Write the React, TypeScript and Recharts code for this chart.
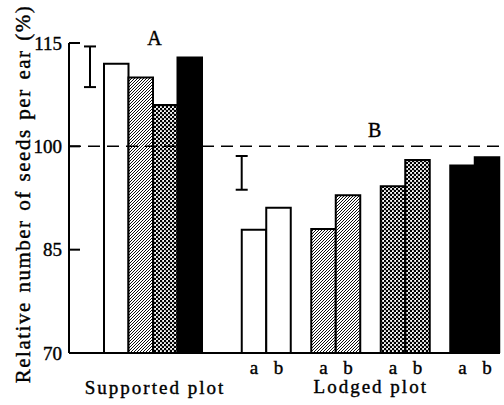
import React from 'react';
import { BarChart, Bar, XAxis, YAxis, ReferenceLine, ErrorBar, LabelList, Cell } from 'recharts';

const FONT = 'Liberation Serif';

// ---- data ----
const yTicks = [70, 85, 100, 115];
const yLabel = 'Relative number of seeds per ear (%)';
const treatments = ['open', 'hatched', 'dotted', 'solid'];
const supportedLabel = 'Supported plot';
const lodgedLabel = 'Lodged plot';
const supportedValues = [112, 110, 106, 112.9];
const lodgedA = [87.9, 88, 94.2, 97.2];
const lodgedB = [91.1, 92.9, 98, 98.4];
const pairKeys = ['a', 'b'];
const groupLabels = ['A', 'B'];
const errLow = [108.6, 93.7];
const errHigh = [114.5, 98.6];
const referenceValue = 100;
const yDomain = [70, 115];

// ---- tables built from the arrays ----
const supportedData = [
  treatments.reduce<Record<string, any>>(
    (row, t, i) => {
      row[t] = supportedValues[i];
      return row;
    },
    { group: supportedLabel }
  ),
];

const lodgedData = treatments.map((t, i) => ({ t, a: lodgedA[i], b: lodgedB[i] }));

const errData = groupLabels.map((g, i) => {
  const mid = (errLow[i] + errHigh[i]) / 2;
  return { g, mid, err: [mid - errLow[i], errHigh[i] - mid] };
});

const patternDefs = (id: string) => (
  <defs>
    <pattern id={`hatch-${id}`} patternUnits="userSpaceOnUse" width={3} height={3}>
      <rect width={3} height={3} fill="#fff" />
      <path
        d="M-0.75,0.75 L0.75,-0.75 M0,3 L3,0 M2.25,3.75 L3.75,2.25"
        stroke="#000"
        strokeWidth={0.95}
      />
    </pattern>
    <pattern id={`dots-${id}`} patternUnits="userSpaceOnUse" width={4} height={4}>
      <rect width={4} height={4} fill="#fff" />
      <circle cx={1} cy={1} r={1.3} fill="#000" />
      <circle cx={3} cy={3} r={1.3} fill="#000" />
    </pattern>
  </defs>
);

const fillFor = (t: string, id: string) => {
  if (t === 'open') return '#fff';
  if (t === 'hatched') return `url(#hatch-${id})`;
  if (t === 'dotted') return `url(#dots-${id})`;
  return '#000';
};

const weight = { stroke: '#000', strokeWidth: 0.4 };

const YAxisTitle = (props: any) => {
  const vb = props.viewBox || { x: 0, y: 43, width: 69, height: 310 };
  const cx = vb.x + 23;
  const cy = vb.y + vb.height / 2 - 4;
  return (
    <text
      x={cx}
      y={cy}
      transform={`rotate(-90 ${cx} ${cy})`}
      textAnchor="middle"
      dominantBaseline="central"
      fill="#000"
      fontFamily={FONT}
      fontSize={21}
      style={{ fontFamily: FONT, fontSize: 21, letterSpacing: '1.5px', wordSpacing: '2px', ...weight }}
    >
      {yLabel}
    </text>
  );
};

const textStyle = { fontFamily: FONT, fill: '#000' };

export default function App() {
  return (
    <div
      style={{
        position: 'absolute',
        left: 0,
        top: 0,
        width: 504,
        height: 405,
        overflow: 'hidden',
        background: '#fff',
        fontFamily: FONT,
      }}
    >
      {/* Axes, reference line and supported plot */}
      <div style={{ position: 'absolute', left: 0, top: 0 }}>
        <BarChart
          width={504}
          height={405}
          data={supportedData}
          margin={{ top: 43, right: 4, bottom: 12, left: 0 }}
          barGap={0}
          barCategoryGap={0}
          style={{ fontFamily: FONT }}
        >
          {patternDefs('s')}
          <XAxis
            dataKey="group"
            height={40}
            padding={{ left: 0, right: 263 }}
            axisLine={{ stroke: '#000', strokeWidth: 2 }}
            tickLine={false}
            tickSize={0}
            tickMargin={28}
            tick={{ ...textStyle, fontSize: 19, dx: 2, style: { fontFamily: FONT, letterSpacing: '2px', ...weight } } as any}
          />
          <YAxis
            type="number"
            width={69}
            domain={yDomain}
            ticks={yTicks}
            interval={0}
            allowDataOverflow
            tickSize={-11}
            tickMargin={18}
            axisLine={{ stroke: '#000', strokeWidth: 2 }}
            tickLine={{ stroke: '#000', strokeWidth: 2 }}
            tick={{ ...textStyle, fontSize: 19, style: { fontFamily: FONT, ...weight } } as any}
            label={{ content: YAxisTitle } as any}
          />
          {treatments.map((t) => (
            <Bar
              key={t}
              dataKey={t}
              barSize={24.5}
              fill={fillFor(t, 's')}
              stroke="#000"
              strokeWidth={2}
              isAnimationActive={false}
            />
          ))}
          <ReferenceLine
            y={referenceValue}
            stroke="#000"
            strokeWidth={1.5}
            strokeDasharray="12 7"
          />
          <ReferenceLine
            x={supportedLabel}
            position="middle"
            stroke="none"
            label={{
              value: groupLabels[0],
              position: 'top',
              offset: -2,
              dx: 1.5,
              fontSize: 20,
              ...textStyle,
              style: { fontFamily: FONT, ...weight },
            } as any}
          />
        </BarChart>
      </div>

      {/* Lodged plot */}
      <div style={{ position: 'absolute', left: 0, top: 0 }}>
        <BarChart
          width={520}
          height={405}
          data={lodgedData}
          margin={{ top: 43, right: 10.25, bottom: 12, left: 231.75 }}
          barGap={0}
          style={{ fontFamily: FONT }}
        >
          {patternDefs('l')}
          <XAxis
            dataKey="t"
            height={40}
            axisLine={false}
            tickLine={false}
            tick={false}
            label={{
              value: lodgedLabel,
              position: 'insideBottom',
              offset: 0,
              fontSize: 19,
              ...textStyle,
              style: { fontFamily: FONT, letterSpacing: '2px', ...weight },
            } as any}
          />
          <YAxis hide type="number" domain={yDomain} allowDataOverflow />
          {pairKeys.map((k) => (
            <Bar
              key={k}
              dataKey={k}
              barSize={24.5}
              stroke="#000"
              strokeWidth={2}
              isAnimationActive={false}
            >
              {treatments.map((t) => (
                <Cell key={t} fill={fillFor(t, 'l')} />
              ))}
              <LabelList
                dataKey={k}
                position="bottom"
                offset={7.5}
                formatter={() => k}
                fontSize={19}
                fill="#000"
                fontFamily={FONT}
                style={{ fontFamily: FONT, ...weight }}
              />
            </Bar>
          ))}
          <ReferenceLine
            y={referenceValue}
            stroke="none"
            label={{
              value: groupLabels[1],
              position: 'top',
              offset: 9,
              dx: 4,
              fontSize: 20,
              ...textStyle,
              style: { fontFamily: FONT, ...weight },
            } as any}
          />
        </BarChart>
      </div>

      {/* Error bars */}
      <div style={{ position: 'absolute', left: 0, top: 0 }}>
        <BarChart
          width={504}
          height={405}
          data={errData}
          margin={{ top: 43, right: 186.6, bottom: 52, left: 14 }}
        >
          <XAxis dataKey="g" hide />
          <YAxis hide type="number" domain={yDomain} allowDataOverflow />
          <Bar dataKey="mid" barSize={2} fill="none" stroke="none" isAnimationActive={false}>
            <ErrorBar dataKey="err" width={6} stroke="#000" strokeWidth={2} direction="y" />
          </Bar>
        </BarChart>
      </div>
    </div>
  );
}
